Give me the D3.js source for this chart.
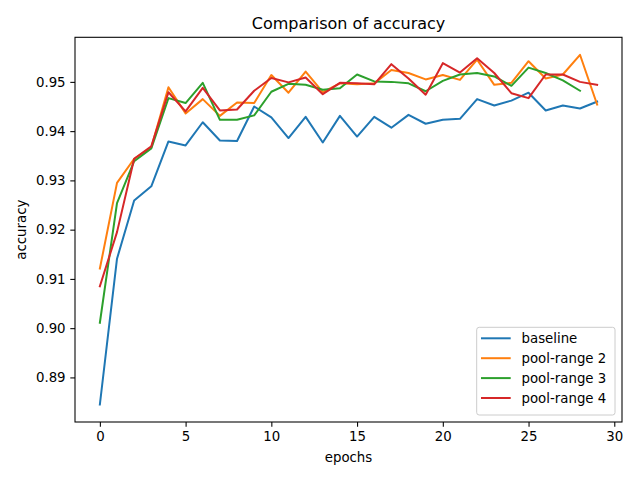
<!DOCTYPE html>
<html>
<head>
<meta charset="utf-8">
<script src="https://cdn.jsdelivr.net/npm/d3@7"></script>
<style>
  html, body { margin: 0; padding: 0; background: #fff; }
  svg { display: block; font-family: "DejaVu Sans", sans-serif; }
</style>
</head>
<body>
<svg id="chart" width="640" height="480"></svg>
<script>
const epochs = d3.range(0, 30);
const baseline = [0.8845, 0.9141, 0.9259, 0.9288, 0.9379, 0.9371, 0.9418, 0.9381, 0.9380, 0.9450,
  0.9428, 0.9386, 0.9429, 0.9377, 0.9431, 0.9389, 0.9429, 0.9407, 0.9433, 0.9415,
  0.9423, 0.9425, 0.9465, 0.9452, 0.9462, 0.9478, 0.9442, 0.9452, 0.9446, 0.9460];
const poolRange2 = [0.9121, 0.9295, 0.9344, 0.9367, 0.9489, 0.9436, 0.9465, 0.9431, 0.9458, 0.9457,
  0.9514, 0.9478, 0.9521, 0.9479, 0.9497, 0.9495, 0.9497, 0.9524, 0.9518, 0.9505,
  0.9514, 0.9504, 0.9545, 0.9494, 0.9498, 0.9542, 0.9507, 0.9515, 0.9555, 0.9454];
const poolRange3 = [0.9011, 0.9254, 0.9339, 0.9365, 0.9467, 0.9457, 0.9498, 0.9423, 0.9423, 0.9432,
  0.9480, 0.9496, 0.9494, 0.9484, 0.9487, 0.9515, 0.9501, 0.9500, 0.9497, 0.9481,
  0.9502, 0.9515, 0.9518, 0.9511, 0.9492, 0.9529, 0.9518, 0.9503, 0.9482];
const poolRange4 = [0.9085, 0.9195, 0.9344, 0.9369, 0.9479, 0.9440, 0.9488, 0.9442, 0.9444, 0.9482,
  0.9508, 0.9499, 0.9509, 0.9475, 0.9498, 0.9497, 0.9495, 0.9536, 0.9507, 0.9474,
  0.9538, 0.9519, 0.9548, 0.9518, 0.9477, 0.9467, 0.9515, 0.9515, 0.9500, 0.9494];
const seriesNames = ["baseline", "pool-range 2", "pool-range 3", "pool-range 4"];
const seriesValues = [baseline, poolRange2, poolRange3, poolRange4];
const colors = ["#1f77b4", "#ff7f0e", "#2ca02c", "#d62728"];
const xTicks = [0, 5, 10, 15, 20, 25, 30];
const yTicks = [0.89, 0.90, 0.91, 0.92, 0.93, 0.94, 0.95];
const titleText = "Comparison of accuracy";
const xLabel = "epochs";
const yLabel = "accuracy";

const svg = d3.select("#chart");
const L = 75, R = 622, T = 37.3, B = 422;

const allY = seriesValues.flat();
const yMin = d3.min(allY), yMax = d3.max(allY);
const yPad = (yMax - yMin) * 0.05;
const xMaxData = d3.max(seriesValues, s => s.length - 1);
const xPad = xMaxData * 0.05;

const x = d3.scaleLinear().domain([-xPad, xMaxData + xPad]).range([L, R]);
const y = d3.scaleLinear().domain([yMin - yPad, yMax + yPad]).range([B, T]);

const line = d3.line().x((d, i) => x(epochs[i])).y(d => y(d));

const g = svg.append("g");
seriesValues.forEach((s, k) => {
  g.append("path").datum(s)
    .attr("fill", "none")
    .attr("stroke", colors[k])
    .attr("stroke-width", 2)
    .attr("stroke-linejoin", "round")
    .attr("stroke-linecap", "square")
    .attr("d", line);
});

// axes
const xAxis = d3.axisBottom(x).tickValues(xTicks).tickFormat(d3.format("d")).tickSizeOuter(0).tickSize(4.7).tickPadding(4.7);
const yAxis = d3.axisLeft(y).tickValues(yTicks).tickFormat(d3.format(".2f")).tickSizeOuter(0).tickSize(4.7).tickPadding(4.7);

const gx = svg.append("g").attr("transform", `translate(0,${B})`).call(xAxis);
const gy = svg.append("g").attr("transform", `translate(${L},0)`).call(yAxis);
[gx, gy].forEach(a => {
  a.select(".domain").remove();
  a.selectAll("line").attr("stroke", "#000").attr("stroke-width", 1.07);
  a.selectAll("text").attr("font-family", "DejaVu Sans").attr("font-size", 13.33).attr("fill", "#000");
});

// spines
svg.append("rect").attr("x", L).attr("y", T).attr("width", R - L).attr("height", B - T)
  .attr("fill", "none").attr("stroke", "#000").attr("stroke-width", 1.07);

// title & labels
svg.append("text").attr("x", (L + R) / 2).attr("y", T - 8).attr("text-anchor", "middle")
  .attr("font-size", 16).attr("fill", "#000").text(titleText);
svg.append("text").attr("x", (L + R) / 2).attr("y", 462).attr("text-anchor", "middle")
  .attr("font-size", 13.33).attr("fill", "#000").text(xLabel);
svg.append("text").attr("transform", `translate(26,${(T + B) / 2}) rotate(-90)`).attr("text-anchor", "middle")
  .attr("font-size", 13.33).attr("fill", "#000").text(yLabel);

// legend
const lg = svg.append("g");
lg.append("rect").attr("x", 476.7).attr("y", 327.3).attr("width", 138.3).attr("height", 87.7)
  .attr("rx", 2.5).attr("fill", "#fff").attr("fill-opacity", 0.8)
  .attr("stroke", "#cccccc").attr("stroke-width", 1);
seriesNames.forEach((n, k) => {
  const cy = 338.3 + k * 19.9;
  lg.append("line").attr("x1", 481).attr("x2", 510.7).attr("y1", cy).attr("y2", cy)
    .attr("stroke", colors[k]).attr("stroke-width", 2);
  lg.append("text").attr("x", 521.5).attr("y", cy).attr("dy", "0.35em")
    .attr("font-size", 13.33).attr("fill", "#000").text(n);
});
</script>
</body>
</html>
